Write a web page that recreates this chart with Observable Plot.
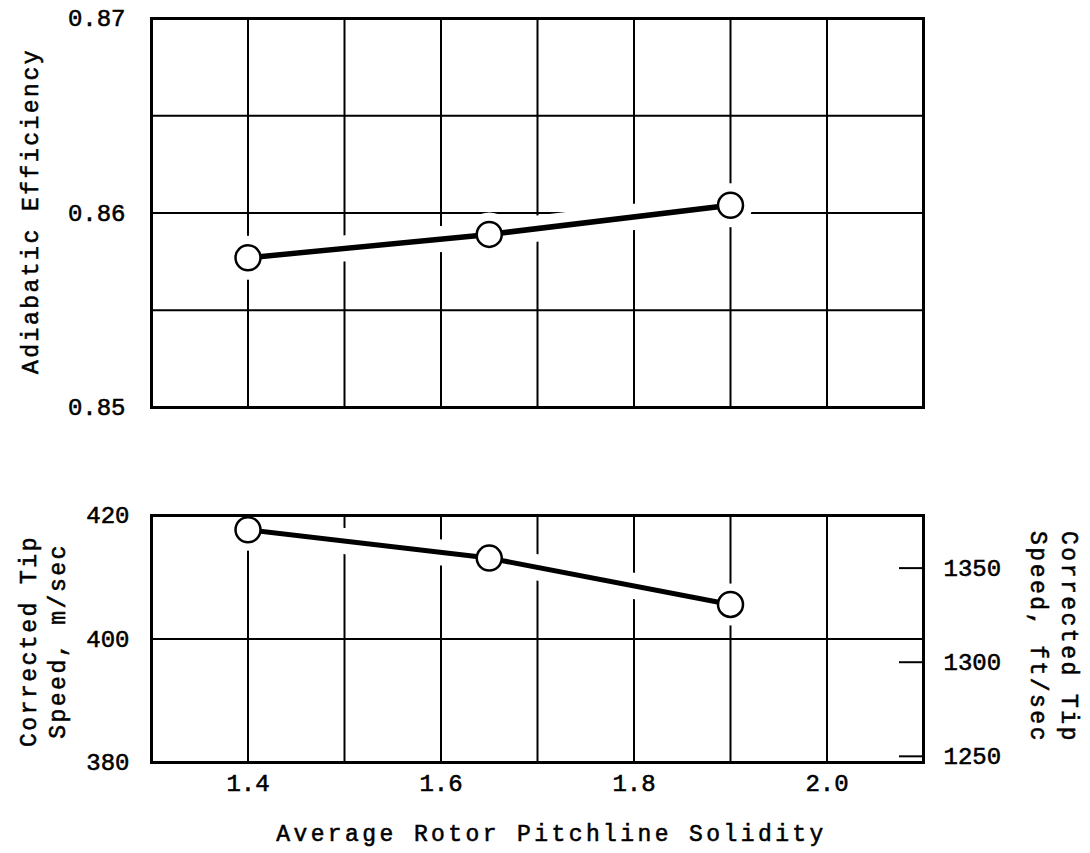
<!DOCTYPE html>
<html><head><meta charset="utf-8">
<script src="https://cdn.jsdelivr.net/npm/d3@7"></script>
<script src="https://cdn.jsdelivr.net/npm/@observablehq/plot@0.6"></script>
<style>
html,body{margin:0;padding:0;background:#fff;}
#chart svg{display:block;}
#chart svg text{stroke:#000;stroke-width:0.55px;paint-order:stroke;}
g[aria-label="text"] text{letter-spacing:2.5px;}
</style>
</head><body><div id="chart"></div>
<script>
// ---- data ----
const solidity = [1.4, 1.65, 1.9];
const efficiency = [0.8577, 0.8589, 0.8604];
const tipSpeedMs = [417.7, 413.1, 405.6];
const xGridTicks = [1.4, 1.5, 1.6, 1.7, 1.8, 1.9, 2.0];
const xLabelTicks = [1.4, 1.6, 1.8, 2.0];
const effGridTicks = [0.855, 0.86, 0.865];
const effLabelTicks = [0.85, 0.86, 0.87];
const speedGridTicks = [400];
const speedLabelTicks = [380, 400, 420];
const speedFtTicks = [1250, 1300, 1350];
const FT_TO_M = 0.3048;

const effData = solidity.map((x, i) => ({x, y: efficiency[i]}));
const spdData = solidity.map((x, i) => ({x, y: tipSpeedMs[i]}));

const FONT = "'Liberation Mono', 'DejaVu Sans Mono', monospace";
const W = 1090, ML = 151, MR = 167;
const frameW = W - ML - MR;
const baseStyle = {fontFamily: FONT, fontSize: "24px", color: "#000", background: "#fff", overflow: "visible"};

const topChart = Plot.plot({
  width: W, height: 440, marginLeft: ML, marginRight: MR, marginTop: 18, marginBottom: 33,
  style: baseStyle,
  x: {domain: [1.3, 2.1], axis: null},
  y: {domain: [0.85, 0.87]},
  marks: [
    Plot.ruleX(xGridTicks, {stroke: "#000", strokeWidth: 2}),
    Plot.ruleY(effGridTicks, {stroke: "#000", strokeWidth: 2}),
    Plot.line(effData, {x: "x", y: "y", stroke: "#fff", strokeWidth: 26}),
    Plot.dot(effData, {x: "x", y: "y", r: 22, fill: "#fff"}),
    Plot.frame({stroke: "#000", strokeWidth: 3}),
    Plot.line(effData, {x: "x", y: "y", stroke: "#000", strokeWidth: 5.5}),
    Plot.dot(effData, {x: "x", y: "y", r: 12.5, fill: "#fff", stroke: "#000", strokeWidth: 2.5}),
    Plot.axisY(effLabelTicks, {tickSize: 0, tickPadding: 26, tickFormat: d3.format(".2f"), fontSize: 24, label: null}),
    Plot.text(["Adiabatic Efficiency"], {text: d => d, frameAnchor: "left", textAnchor: "middle", lineAnchor: "middle",
      dx: -121, dy: -2, rotate: -90, fontSize: 23})
  ]
});

const bottomChart = Plot.plot({
  width: W, height: 413, marginLeft: ML, marginRight: MR, marginTop: 75, marginBottom: 91,
  style: baseStyle,
  x: {domain: [1.3, 2.1]},
  y: {domain: [380, 420]},
  marks: [
    Plot.ruleX(xGridTicks, {stroke: "#000", strokeWidth: 2}),
    Plot.ruleY(speedGridTicks, {stroke: "#000", strokeWidth: 2}),
    Plot.line(spdData, {x: "x", y: "y", stroke: "#fff", strokeWidth: 26}),
    Plot.dot(spdData, {x: "x", y: "y", r: 21, fill: "#fff"}),
    Plot.ruleY(speedFtTicks, {y: d => d * FT_TO_M, insetLeft: frameW - 24, stroke: "#000", strokeWidth: 2}),
    Plot.frame({stroke: "#000", strokeWidth: 3}),
    Plot.line(spdData, {x: "x", y: "y", stroke: "#000", strokeWidth: 5}),
    Plot.dot(spdData, {x: "x", y: "y", r: 12.5, fill: "#fff", stroke: "#000", strokeWidth: 2.5}),
    Plot.axisY(speedLabelTicks, {tickSize: 0, tickPadding: 22, fontSize: 24, label: null}),
    Plot.axisY(speedFtTicks.map(d => d * FT_TO_M), {anchor: "right", tickSize: 0, tickPadding: 20, fontSize: 24,
      tickFormat: d => String(Math.round(d / FT_TO_M)), label: null}),
    Plot.axisX(xLabelTicks, {tickSize: 0, tickPadding: 11, fontSize: 24, tickFormat: d3.format(".1f"), label: null}),
    Plot.text(["Corrected Tip\nSpeed, m/sec"], {text: d => d, frameAnchor: "left", textAnchor: "middle", lineAnchor: "middle",
      dx: -110, dy: 2, rotate: -90, fontSize: 23, lineHeight: 1.27}),
    Plot.text(["Corrected Tip\nSpeed, ft/sec"], {text: d => d, frameAnchor: "right", textAnchor: "middle", lineAnchor: "middle",
      dx: 133, dy: -2, rotate: 90, fontSize: 23, lineHeight: 1.33}),
    Plot.text(["Average Rotor Pitchline Solidity"], {text: d => d, frameAnchor: "bottom", textAnchor: "middle", lineAnchor: "middle",
      dx: 14, dy: 71, fontSize: 23})
  ]
});

document.getElementById("chart").append(topChart, bottomChart);
// wider typewriter pitch for the x-axis title
bottomChart.querySelectorAll('g[aria-label="text"] text').forEach(t => {
  if (t.textContent.startsWith("Average")) t.style.letterSpacing = "3.4px";
});
</script>
</body></html>
